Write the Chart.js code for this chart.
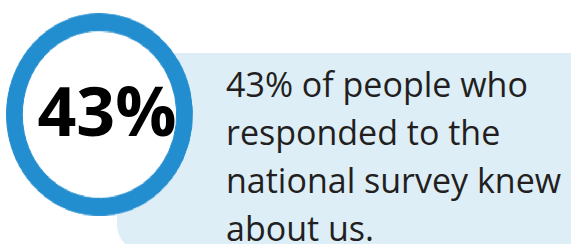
<!DOCTYPE html>
<html lang="en">
<head>
    <meta charset="UTF-8">
    <title>National survey awareness</title>
    <style>
        body {
            margin: 0;
            background-color: white;
            font-family: "Open Sans", sans-serif;
        }
        .stage {
            position: relative;
            width: 571px;
            height: 244px;
            overflow: hidden;
        }
        .panel {
            position: absolute;
            left: 117px;
            top: 53px;
            width: 480px;
            height: 198px;
            background-color: #ddeef7;
            border-radius: 26px;
        }
        .ring {
            position: absolute;
            left: 6px;
            top: 13px;
            width: 187px;
            height: 187px;
            background-color: white;
            border-radius: 50%;
            transform: scaleY(1.086);
            transform-origin: top left;
        }
        .big {
            position: absolute;
            left: 0;
            width: 214px;
            top: 76px;
            text-align: center;
            font-size: 68px;
            line-height: 68px;
            font-weight: bold;
            color: black;
        }
        .caption {
            position: absolute;
            left: 226px;
            top: 59.5px;
            font-size: 34px;
            line-height: 48px;
            color: #231f20;
            white-space: nowrap;
        }
    </style>
    <script src="https://cdn.jsdelivr.net/npm/chart.js"></script>
</head>
<body>
    <div class="stage">
        <div class="panel"></div>
        <div class="ring"><canvas id="ringChart"></canvas></div>
        <div class="big" id="bigValue"></div>
        <div class="caption" id="caption"></div>
    </div>

    <script>
        const labels = ['Knew about us', 'Did not know'];
        const values = [43, 57];
        const captionLines = ['% of people who', 'responded to the', 'national survey knew', 'about us.'];

        document.getElementById('bigValue').innerText = values[0] + '%';
        document.getElementById('caption').innerHTML =
            values[0] + captionLines[0] + '<br>' + captionLines.slice(1).join('<br>');

        // whole ring is one colour, so stroke the segments in it too (hides seams)
        const ctx = document.getElementById('ringChart').getContext('2d');
        const ringChart = new Chart(ctx, {
            type: 'doughnut',
            data: {
                labels: labels,
                datasets: [{
                    data: values,
                    backgroundColor: '#238ecf',
                    borderColor: '#238ecf',
                    borderWidth: 1,
                    hoverOffset: 0
                }]
            },
            options: {
                responsive: true,
                maintainAspectRatio: false,
                animation: false,
                cutout: '83%',
                layout: { padding: 0 },
                plugins: {
                    legend: { display: false },
                    tooltip: { enabled: false }
                }
            }
        });
    </script>
</body>
</html>
